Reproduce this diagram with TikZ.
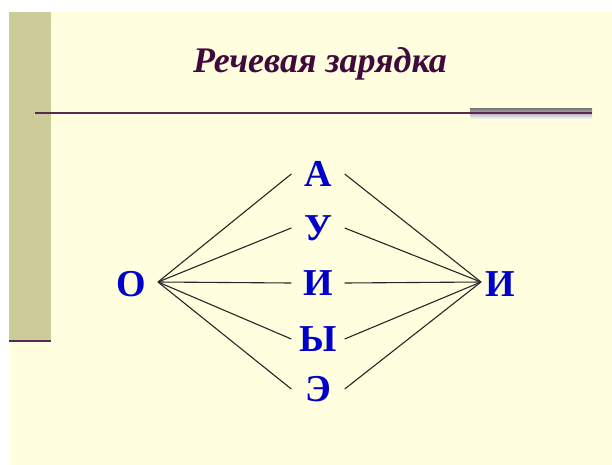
\documentclass[tikz,border=0pt]{standalone}
\usepackage{fontspec}
\setmainfont{Liberation Serif}
\usetikzlibrary{positioning}
\usepackage{xcolor}
\definecolor{cream}{RGB}{255,255,224}
\definecolor{khaki}{RGB}{204,204,153}
\definecolor{plum}{RGB}{64,10,60}
\definecolor{rule}{RGB}{90,40,85}
\definecolor{shade}{RGB}{160,160,175}
\definecolor{vowel}{RGB}{0,0,204}

\begin{document}
\begin{tikzpicture}[x=1pt, y=-1pt,
        letter/.style={text=vowel, font=\fontsize{38}{40}\selectfont\bfseries, inner sep=0pt, minimum width=53pt},
        link/.style={line width=1.1pt, black!85}]
        \useasboundingbox (0, 0) rectangle (612, 465);
        % background and left bar
        \fill[white] (0, 0) rectangle (612, 465);
        \fill[cream] (9, 12) rectangle (612, 465);
        \fill[khaki] (9, 12) rectangle (51, 341);
        \draw[rule, line width=2pt] (9, 341) -- (51, 341);

        % title and rule
        \node[text=plum, font=\fontsize{36}{38}\selectfont\bfseries\itshape] (title) at (320, 64) {Речевая зарядка};
        \fill[shade] (470, 109) rectangle (592, 119);
        \draw[rule, line width=1.5pt] (35, 113) -- (592, 113);

        % vowels
        \node[letter] (o) at (131, 284) {О};
        \node[letter] (i2) at (500, 284) {И};
        \node[letter] (a) at (318, 174) {А};
        \node[letter] (u) at (318, 228) {У};
        \node[letter] (i) at (318, 283) {И};
        \node[letter] (y) at (318, 339) {Ы};
        \node[letter] (e) at (318, 389) {Э};
        \coordinate (left) at (158, 282);
        \coordinate (right) at (481, 282);

        \foreach \v in {a, u, i, y, e} {
            \draw[link] (left) -- (\v.west);
            \draw[link] (\v.east) -- (right);
        }
    \end{tikzpicture}
\end{document}
